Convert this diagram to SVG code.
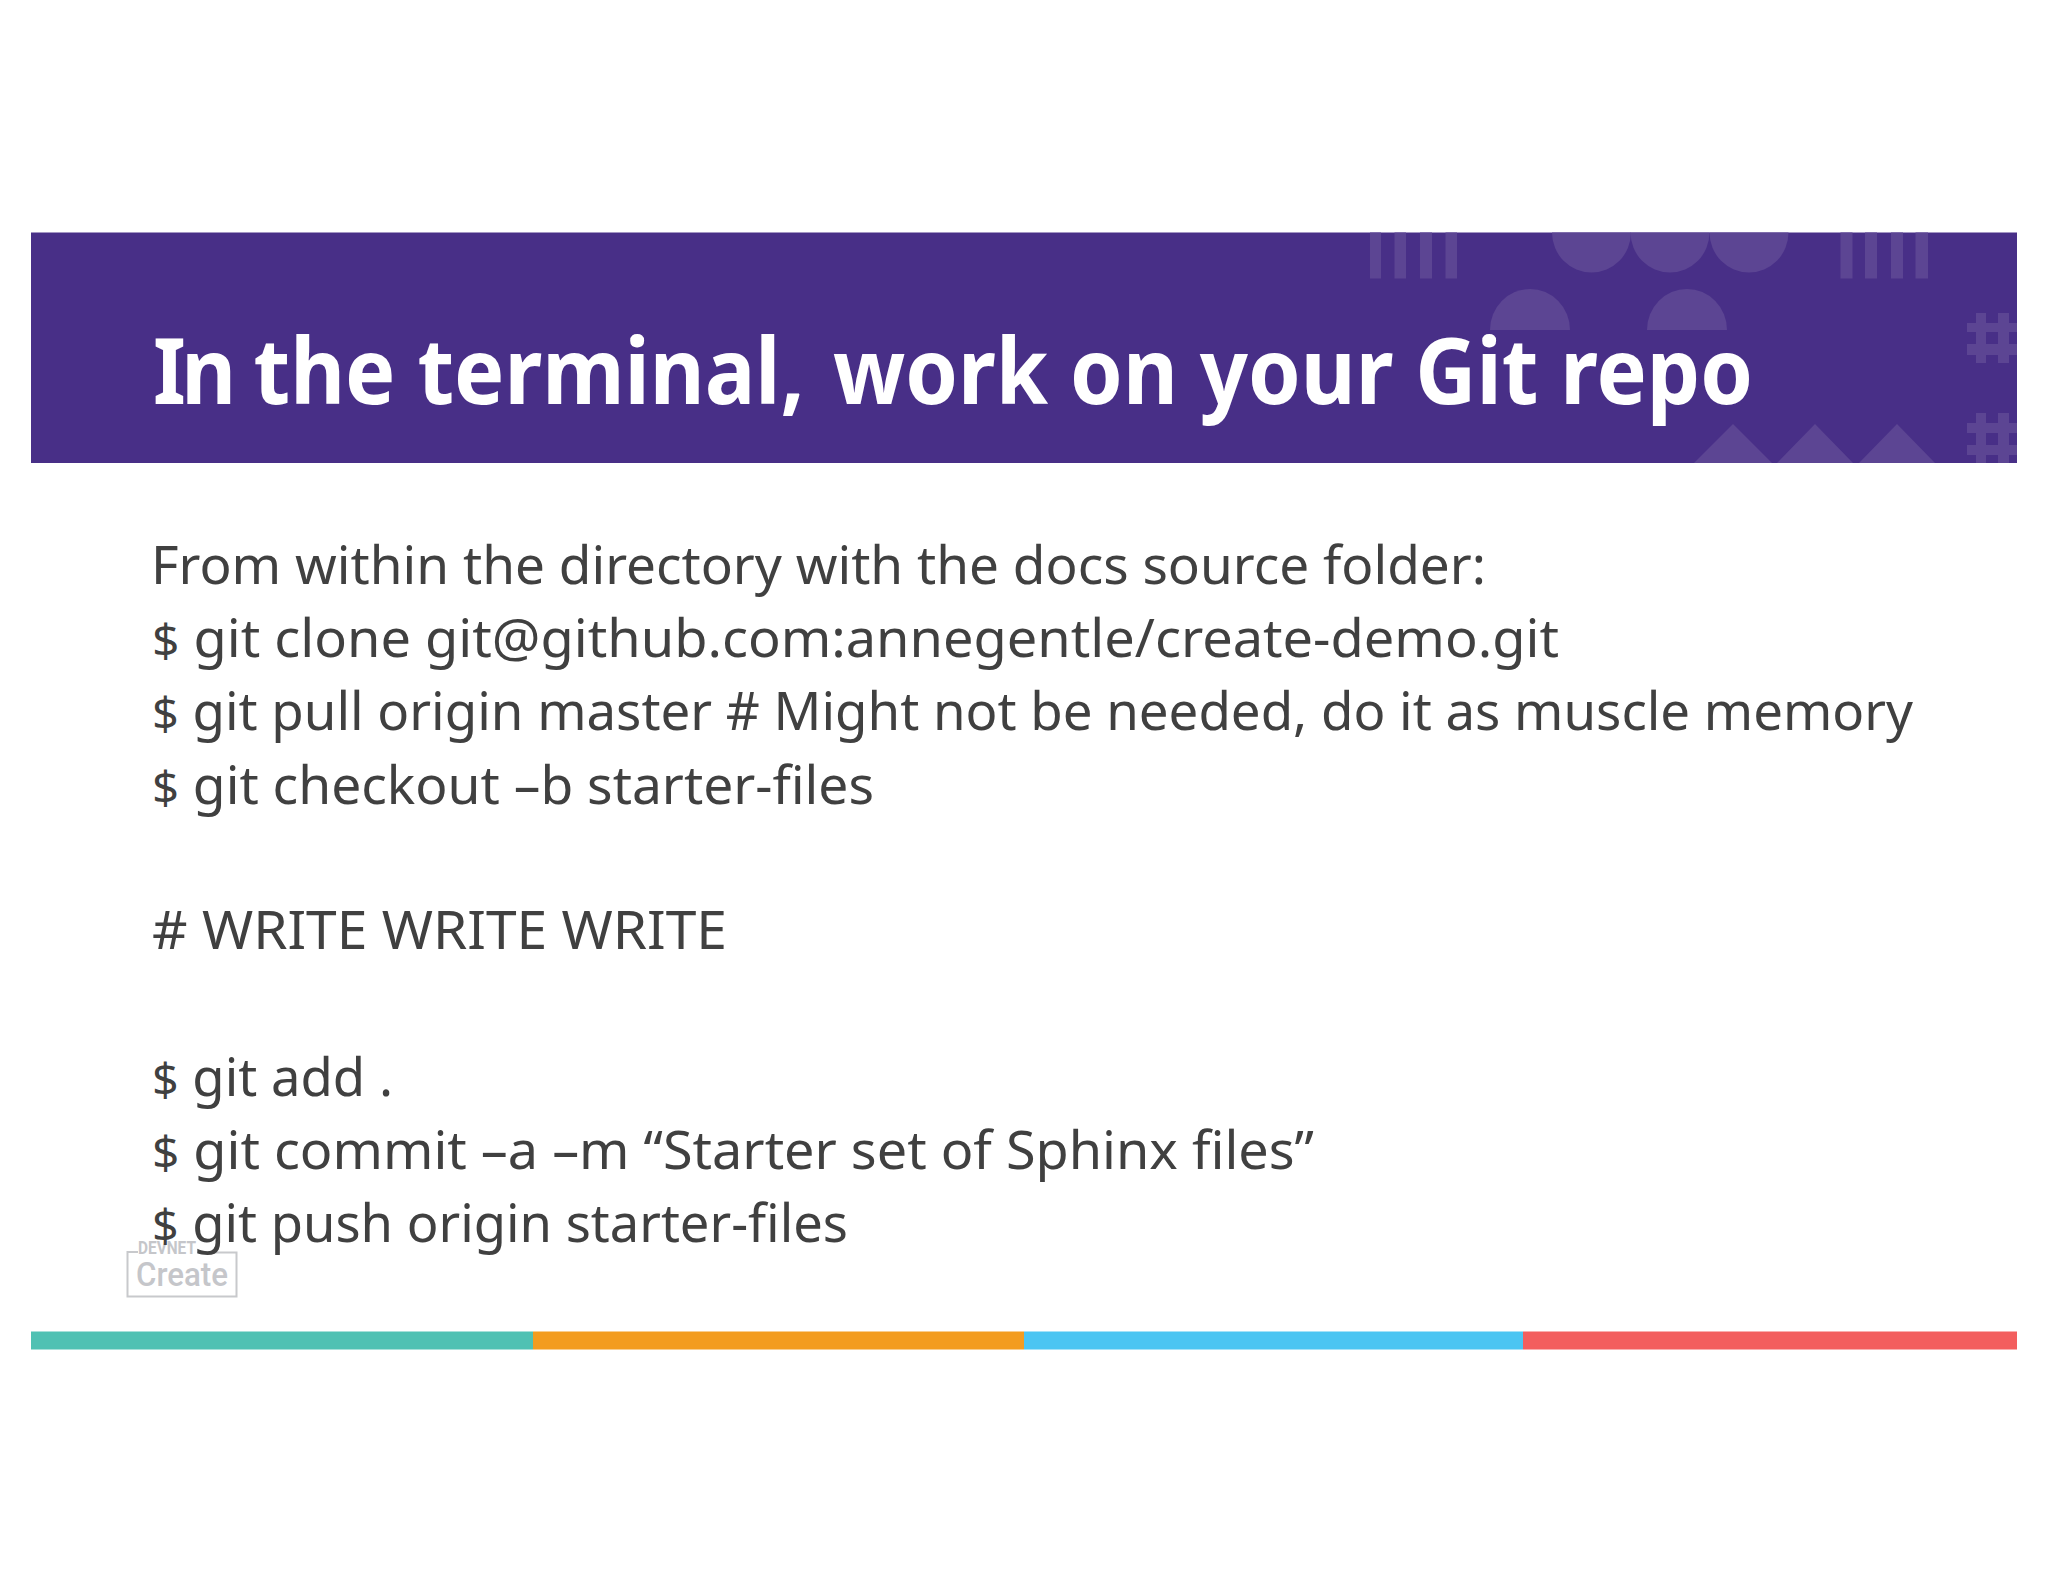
<svg xmlns="http://www.w3.org/2000/svg" width="2048" height="1582" viewBox="0 0 2048 1582">
<style>
.d{fill:#5c4593}
.t{font-family:"Noto Sans","Liberation Sans",sans-serif;fill:#404040;font-size:52px}
.s{font-size:46px}
</style>
<rect width="2048" height="1582" fill="#fff"/>
<g id="banner">
<rect x="31" y="232.5" width="1986" height="230.5" fill="#482f87"/>
<g class="d">
<rect x="1370" y="232.5" width="11" height="46"/><rect x="1394.5" y="232.5" width="11.5" height="46"/><rect x="1420" y="232.5" width="12" height="46"/><rect x="1445.5" y="232.5" width="11.5" height="46"/>
<rect x="1840.5" y="232.5" width="12" height="46"/><rect x="1865" y="232.5" width="12" height="46"/><rect x="1891" y="232.5" width="12" height="46"/><rect x="1915.5" y="232.5" width="12.5" height="46"/>
<path d="M1552 232.5A39.5 40 0 0 0 1631 232.5Z"/><path d="M1630.5 232.5A39.5 40 0 0 0 1709.5 232.5Z"/><path d="M1709.5 232.5A39.5 40 0 0 0 1788.5 232.5Z"/>
<path d="M1490 330A40 41 0 0 1 1570 330Z"/><path d="M1647 330A40 41 0 0 1 1727 330Z"/>
<path d="M1694 463L1733 424L1772 463Z"/><path d="M1777 463L1815 424L1853 463Z"/><path d="M1859 463L1897 424L1935 463Z"/>
<rect x="1976" y="313" width="10" height="50"/><rect x="1998" y="313" width="11" height="50"/><rect x="1967" y="323" width="50" height="9"/><rect x="1967" y="344" width="50" height="11"/>
<rect x="1976" y="413" width="10" height="50"/><rect x="1998" y="413" width="11" height="50"/><rect x="1967" y="423" width="50" height="10"/><rect x="1967" y="445" width="50" height="10"/>
</g>
<text x="153" y="404" font-family="Noto Sans,Liberation Sans,sans-serif" font-weight="700" font-size="92" fill="#fff" textLength="1600" lengthAdjust="spacingAndGlyphs"><tspan letter-spacing="-5">In</tspan> the terminal,<tspan dx="7"> work on your Git repo</tspan></text>
</g>
<g id="logo">
<path d="M138 1252H127.500V1296.500H236.500V1252.500H197" fill="none" stroke="#c8c9cc" stroke-width="2"/>
<text x="138" y="1254" font-family="Roboto,Liberation Sans,sans-serif" font-weight="700" font-size="18" fill="#c5c6ca" textLength="58" lengthAdjust="spacingAndGlyphs">DEVNET</text>
<text x="136" y="1286" font-family="Roboto,Liberation Sans,sans-serif" font-weight="500" font-size="33" fill="#c5c6ca" textLength="92" lengthAdjust="spacingAndGlyphs">Create</text>
</g>
<g id="body">
<text class="t" x="151" y="583.500" textLength="1335" lengthAdjust="spacingAndGlyphs">From within the directory with the docs source folder:</text>
<text class="t" x="152" y="657" textLength="1407" lengthAdjust="spacingAndGlyphs"><tspan class="s">$</tspan><tspan> git clone git@github.com:annegentle/create-demo.git</tspan></text>
<text class="t" x="152" y="729.500" textLength="1761" lengthAdjust="spacingAndGlyphs"><tspan class="s">$</tspan><tspan> git pull origin master # Might not be needed, do it as muscle memory</tspan></text>
<text class="t" x="152" y="803.500" textLength="722" lengthAdjust="spacingAndGlyphs"><tspan class="s">$</tspan><tspan> git checkout –b starter-files</tspan></text>
<text class="t" x="152" y="949" textLength="575" lengthAdjust="spacingAndGlyphs"># WRITE WRITE WRITE</text>
<text class="t" x="152" y="1096" textLength="241" lengthAdjust="spacingAndGlyphs"><tspan class="s">$</tspan><tspan> git add .</tspan></text>
<text class="t" x="152" y="1169" textLength="1162" lengthAdjust="spacingAndGlyphs"><tspan class="s">$</tspan><tspan> git commit –a –m “Starter set of Sphinx files”</tspan></text>
<text class="t" x="152" y="1242" textLength="696" lengthAdjust="spacingAndGlyphs"><tspan class="s">$</tspan><tspan> git push origin starter-files</tspan></text>
</g>
<g id="stripe">
<rect x="31" y="1331.500" width="502" height="18" fill="#4fc1b3"/>
<rect x="533" y="1331.500" width="491" height="18" fill="#f39c1f"/>
<rect x="1024" y="1331.500" width="499" height="18" fill="#4bc5f2"/>
<rect x="1523" y="1331.500" width="494" height="18" fill="#f35e5e"/>
</g>
</svg>
